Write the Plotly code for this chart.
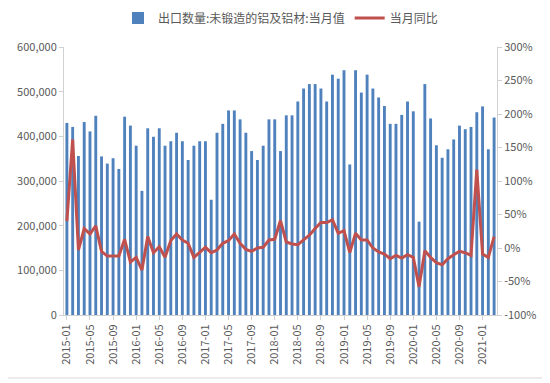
import plotly.graph_objects as go

months = [f"{y}-{m:02d}" for y in range(2015, 2022) for m in range(1, 13)][:75]

export_qty = [
    430000, 421000, 356000, 432000, 411000, 446000, 355000, 339000, 351000, 327000, 444000, 424000,
    379000, 278000, 418000, 399000, 418000, 379000, 389000, 408000, 389000, 347000, 379000, 389000,
    389000, 258000, 408000, 428000, 458000, 458000, 438000, 408000, 367000, 347000, 379000, 438000,
    438000, 367000, 447000, 447000, 478000, 507000, 517000, 517000, 507000, 478000, 538000, 529000,
    548000, 337000, 548000, 498000, 538000, 507000, 487000, 468000, 428000, 428000, 448000, 478000,
    456000, 209000, 517000, 440000, 380000, 352000, 371000, 393000, 424000, 416000, 421000, 454000,
    467000, 371000, 442000,
]

yoy_pct = [
    40, 162, -3, 29, 21, 33, -5, -12, -12, -12, 13, -21,
    -14, -33, 17, -7, 2, -14, 11, 21, 12, 7, -14, -7,
    1, -7, -3, 7, 11, 21, 7, -2, -5, 0, 1, 12,
    13, 41, 9, 6, 5, 12, 19, 29, 38, 38, 42, 22,
    26, -7, 22, 12, 12, 0, -6, -9, -16, -11, -15, -10,
    -14, -58, -4, -14, -22, -25, -16, -10, -5, -7, -11, 117,
    -9, -14, 17,
]

tick_labels = months[::4]
left_ticks = [0, 100000, 200000, 300000, 400000, 500000, 600000]
right_ticks = [-100, -50, 0, 50, 100, 150, 200, 250, 300]
right_text = [f"{v}%" for v in right_ticks]

font_fam = "Noto Sans CJK SC, Open Sans, sans-serif"
txt = "#595959"
axc = "#D0D0D0"

fig = go.Figure()
fig.add_trace(go.Bar(
    x=months, y=export_qty, name="出口数量:未锻造的铝及铝材:当月值",
    marker=dict(color="#4F81BD", line=dict(width=0)), yaxis="y",
))
fig.add_trace(go.Scatter(
    x=months, y=yoy_pct, name="当月同比", mode="lines",
    line=dict(color="#C0504D", width=3), yaxis="y2",
))

# the page body adds an 8px offset; margins compensate
fig.update_layout(
    width=550, height=383,
    margin=dict(l=56, r=61, t=39, b=76, autoexpand=False),
    paper_bgcolor="white", plot_bgcolor="white",
    font=dict(family=font_fam, size=11, color=txt),
    bargap=0.5,
    showlegend=True,
    legend=dict(orientation="h", x=0.5, xanchor="center", xref="paper",
                y=1 - 10 / 383, yanchor="middle", yref="container",
                font=dict(size=12, color=txt), tracegroupgap=0),
    xaxis=dict(
        type="category", tickvals=tick_labels, ticktext=tick_labels,
        tickangle=-90, showgrid=False, showline=True, linecolor=axc,
        ticks="outside", ticklen=4, tickcolor=axc, automargin=False,
        tickfont=dict(size=11, color=txt),
        range=[-0.5, len(months) - 0.5],
    ),
    yaxis=dict(
        range=[0, 600000], tickvals=left_ticks,
        tickformat=",", showgrid=False, showline=True, linecolor=axc,
        ticks="outside", ticklen=4, tickcolor=axc, zeroline=False, automargin=False,
        tickfont=dict(size=11, color=txt),
    ),
    yaxis2=dict(
        range=[-100, 300], tickvals=right_ticks, ticktext=right_text,
        overlaying="y", side="right", showgrid=False,
        showline=True, linecolor=axc, ticks="outside", ticklen=4,
        tickcolor=axc, zeroline=False, automargin=False,
        tickfont=dict(size=11, color=txt),
    ),
    shapes=[
        dict(type="line", xref="paper", yref="paper",
             x0=-0.2, x1=1 + 48/433, y0=-63/268, y1=-63/268,
             line=dict(color="#D9D9D9", width=1)),
        dict(type="line", xref="paper", yref="paper",
             x0=1 + 48/433, x1=1 + 48/433, y0=-63/268, y1=1.2,
             line=dict(color="#D9D9D9", width=1)),
    ],
)

fig.write_html("out.html")
